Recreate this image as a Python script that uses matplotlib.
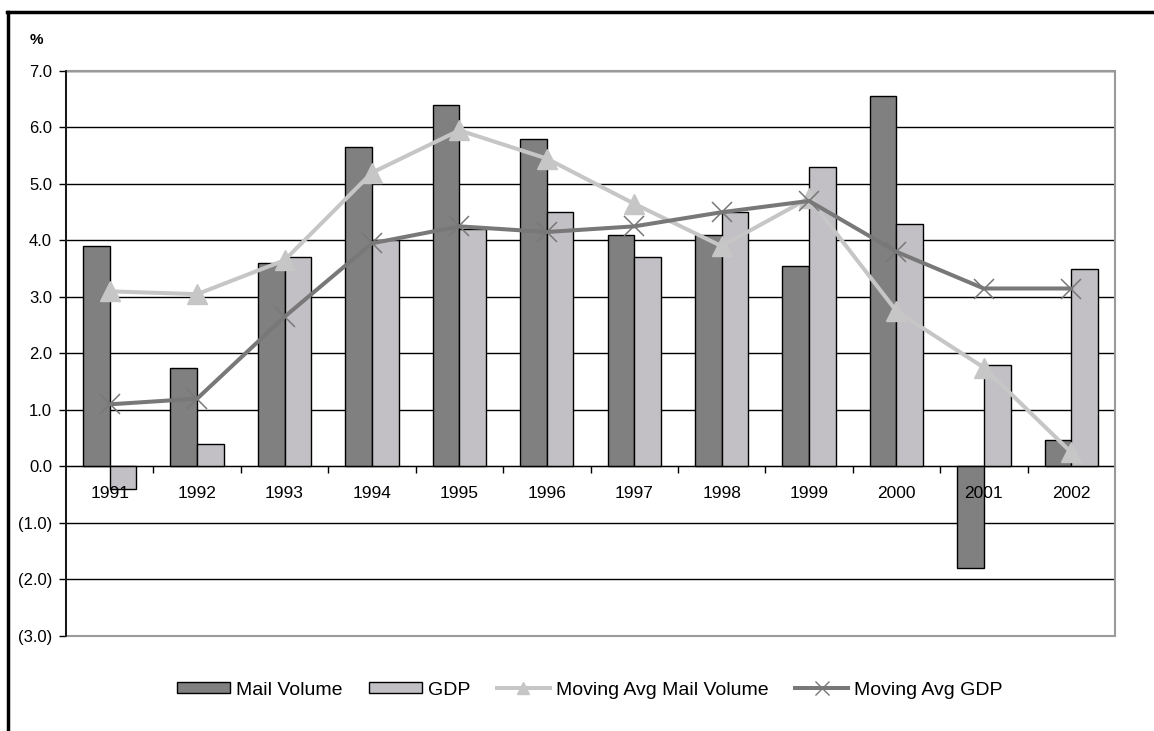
import matplotlib
matplotlib.use("Agg")
import matplotlib.pyplot as plt
import numpy as np
from matplotlib.patches import Patch, Rectangle
from matplotlib.lines import Line2D
from matplotlib.ticker import FuncFormatter, FixedLocator

plt.rcParams["font.family"] = ["Liberation Sans", "DejaVu Sans"]

years = ["1991", "1992", "1993", "1994", "1995", "1996",
         "1997", "1998", "1999", "2000", "2001", "2002"]
mail_volume = [3.9, 1.75, 3.6, 5.65, 6.4, 5.8, 4.1, 4.1, 3.55, 6.55, -1.8, 0.46]
gdp = [-0.4, 0.4, 3.7, 4.0, 4.2, 4.5, 3.7, 4.5, 5.3, 4.3, 1.8, 3.5]
ma_mail = [3.1, 3.05, 3.65, 5.2, 5.95, 5.45, 4.65, 3.9, 4.75, 2.75, 1.75, 0.25]
ma_gdp = [1.1, 1.2, 2.65, 3.95, 4.25, 4.15, 4.25, 4.5, 4.7, 3.8, 3.15, 3.15]

DARK = "#808080"
LIGHT = "#c2c0c4"
LINE_LIGHT = "#c6c6c6"
LINE_DARK = "#787878"

fig = plt.figure(figsize=(11.54, 7.31), dpi=100)
ax = fig.add_axes([0.0572, 0.130, 0.909, 0.7729])

x = np.arange(len(years))
w = 0.305
ax.bar(x - w / 2, mail_volume, w, color=DARK, edgecolor="black", linewidth=1, zorder=3)
ax.bar(x + w / 2, gdp, w, color=LIGHT, edgecolor="black", linewidth=1, zorder=3)
ax.plot(x, ma_mail, color=LINE_LIGHT, lw=2.9, marker="^", markersize=14,
        markeredgecolor=LINE_LIGHT, zorder=4)
ax.plot(x, ma_gdp, color=LINE_DARK, lw=2.9, marker="x", markersize=14,
        markeredgewidth=1.1, zorder=4)

ax.set_xlim(-0.5, len(years) - 0.5)
ax.set_ylim(-3, 7)
ax.set_yticks(np.arange(-3, 8, 1))
ax.yaxis.set_major_formatter(FuncFormatter(
    lambda v, _: f"({abs(v):.1f})" if v < 0 else f"{v:.1f}"))
ax.yaxis.grid(True, color="black", linewidth=1)
ax.set_axisbelow(True)
ax.tick_params(axis="y", length=5, width=1, labelsize=12, pad=5)

# category axis runs along zero, labels drawn over the bars
ax.spines["bottom"].set_position(("data", 0))
ax.spines["bottom"].set_zorder(5)
ax.xaxis.set_zorder(6)
ax.set_xticks(x)
ax.set_xticklabels(years)
ax.xaxis.set_minor_locator(FixedLocator(x[:-1] + 0.5))
ax.tick_params(axis="x", which="major", length=0, labelsize=12.5, pad=14)
ax.tick_params(axis="x", which="minor", length=5, width=1, direction="out")

# plot-area border: grey box, black value axis on the left
ax.spines["top"].set_visible(False)
ax.spines["right"].set_visible(False)
ax.spines["left"].set_linewidth(1.2)
ax.add_patch(Rectangle((0, 0), 1, 1, transform=ax.transAxes, fill=False,
                       edgecolor="#9a9a9a", linewidth=1.5, zorder=6, clip_on=False))
ax.plot([0, 0], [0, 1], transform=ax.transAxes, color="black", lw=1.2,
        zorder=7, clip_on=False)

fig.text(0.026, 0.940, "%", fontsize=11, fontweight="bold")

handles = [
    Patch(facecolor=DARK, edgecolor="black", label="Mail Volume"),
    Patch(facecolor=LIGHT, edgecolor="black", label="GDP"),
    Line2D([], [], color=LINE_LIGHT, lw=2.9, marker="^", markersize=9,
           label="Moving Avg Mail Volume"),
    Line2D([], [], color=LINE_DARK, lw=2.9, marker="x", markersize=10,
           label="Moving Avg GDP"),
]
fig.legend(handles=handles, loc="center", bbox_to_anchor=(0.511, 0.056), ncol=4,
           frameon=False, fontsize=14, handlelength=2.7, handleheight=0.5,
           handletextpad=0.3, columnspacing=1.4)

# outer frame (left and top edges)
fig.add_artist(Line2D([0.007, 0.007], [0, 0.983], color="black", lw=2.5))
fig.add_artist(Line2D([0.006, 1.0], [0.983, 0.983], color="black", lw=2.5))

fig.savefig("out.png", dpi=100)
